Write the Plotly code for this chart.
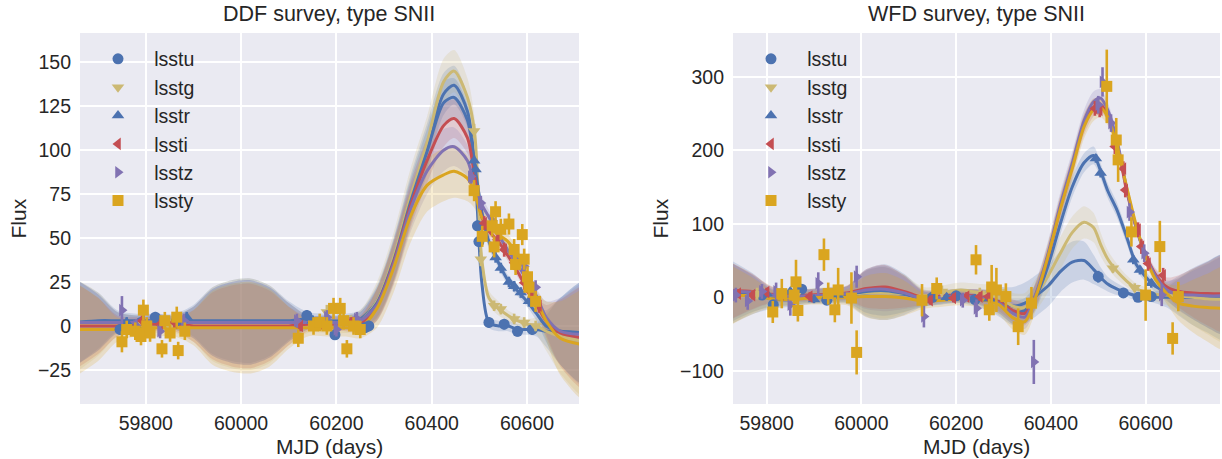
import plotly.graph_objects as go

# ---------------------------------------------------------------- bands
BAND_NAMES = ["lsstu", "lsstg", "lsstr", "lssti", "lsstz", "lssty"]
BAND_COLORS = ["#4C72B0", "#CCB974", "#4C72B0", "#C44E52", "#8172B2", "#DAA520"]
BAND_SYMBOLS = ["circle", "triangle-down", "triangle-up", "triangle-left",
                "triangle-right", "square"]

# ---------------------------------------------------------------- DDF survey
# Gaussian-process fit: mean and 1-sigma width on a common MJD grid
ddf_grid = [59650, 59700, 59740, 59780, 59820, 59860, 59900, 59940, 59980, 60020,
            60060, 60100, 60140, 60180, 60220, 60250, 60285, 60320, 60355, 60390,
            60425, 60447, 60475, 60490, 60505, 60520, 60540, 60560, 60580, 60600,
            60620, 60640, 60670, 60725]

ddf_mean_u = [2, 3, 3, 3, 3, 3, 3, 3, 3, 3, 3, 3, 4, 3, 3, 4, 14, 38, 72, 102,
              132, 137, 122, 92, 25, 2, 0, 0, -2, -2, -2, -3, -3, -4]
ddf_mean_g = [0, 1, 1, 1, 1, 1, 1, 1, 1, 1, 1, 1, 1, 1, 1, 3, 14, 39, 73, 104,
              139, 145, 130, 110, 38, 16, 10, 6, 3, 1, 0, -3, -6, -9]
ddf_mean_r = [2, 2, 2, 2, 2, 2, 2, 2, 2, 2, 2, 2, 2, 2, 2, 3, 13, 37, 70, 99,
              127, 130, 117, 92, 65, 48, 36, 26, 20, 14, 7, 0, -3, -4]
ddf_mean_i = [0, 0, 0, 1, 1, 1, 0, 0, 0, 0, 0, 0, 1, 1, 1, 1, 12, 36, 68, 94,
              114, 118, 107, 85, 62, 54, 48, 40, 31, 21, 12, 3, -4, -7]
ddf_mean_z = [2, 2, 2, 2, 3, 2, 2, 2, 2, 2, 2, 2, 2, 2, 2, 3, 12, 35, 66, 88,
              100, 102, 94, 80, 69, 62, 52, 43, 35, 26, 17, 5, -3, -5]
ddf_mean_y = [-2, -2, -2, -1, -1, -1, -1, -1, -1, -1, -1, -1, -1, -1, -1, -1, 10, 33, 62, 80,
              86, 88, 84, 76, 62, 56, 52, 48, 40, 29, 15, 3, -7, -11]

ddf_sig_u = [25, 16, 6, 4, 4, 4, 9, 19, 23, 24, 20, 11, 4, 4, 4, 5, 9, 12, 13, 13,
             12, 11, 9, 6, 5, 3, 3, 3, 3, 3, 4, 9, 19, 30]
ddf_sig_g = [27, 18, 7, 5, 5, 5, 10, 21, 25, 26, 22, 12, 5, 5, 5, 6, 11, 14, 16, 15,
             13, 12, 11, 8, 6, 4, 4, 3, 3, 3, 5, 11, 21, 32]
ddf_sig_r = [25, 16, 6, 4, 4, 4, 9, 19, 23, 24, 20, 11, 4, 4, 4, 5, 9, 12, 13, 13,
             12, 11, 9, 6, 5, 4, 3, 3, 3, 3, 4, 9, 19, 30]
ddf_sig_i = [25, 16, 6, 4, 4, 4, 9, 19, 23, 24, 20, 11, 4, 4, 4, 5, 9, 12, 13, 13,
             12, 11, 9, 7, 5, 4, 3, 3, 3, 3, 4, 9, 19, 30]
ddf_sig_z = [25, 16, 6, 4, 4, 4, 9, 19, 23, 24, 20, 11, 4, 4, 4, 5, 9, 12, 13, 13,
             12, 11, 9, 7, 5, 4, 3, 3, 3, 3, 4, 9, 19, 30]
ddf_sig_y = [27, 18, 7, 5, 5, 5, 10, 21, 25, 26, 22, 12, 5, 5, 5, 6, 11, 14, 15, 15,
             15, 15, 13, 9, 6, 5, 4, 4, 4, 4, 5, 11, 21, 32]

# observed photometry (MJD, flux, flux error)
ddf_obs_u_t = [59746, 59790, 59820, 59865, 60138, 60160, 60197, 60260, 60268,
               60496, 60499, 60520, 60552, 60580, 60611]
ddf_obs_u_f = [-2, 2, 5, 3, 6, 2, -5, -1, 0, 57, 48, 2, 1, -3, -2]
ddf_obs_u_e = [3, 3, 3, 3, 3, 3, 3, 3, 3, 3, 3, 3, 3, 3, 3]

ddf_obs_g_t = [59795, 59850, 60180, 60230, 60489, 60503, 60531, 60545, 60573, 60594, 60618]
ddf_obs_g_f = [1, 0, 8, 2, 111, 38, 11.5, 9.6, 4, 2, 0]
ddf_obs_g_e = [4, 4, 4, 4, 4, 4, 3, 3, 3, 3, 3]

ddf_obs_r_t = [59760, 59886, 60150, 60240, 60489, 60492, 60534, 60545, 60562, 60573,
               60587, 60604]
ddf_obs_r_f = [2, 5, 3, 3, 94, 89, 39, 33, 25, 22.6, 19, 14]
ddf_obs_r_e = [3, 3, 3, 3, 3, 3, 3, 3, 3, 3, 3, 3]

ddf_obs_i_t = [59792, 59830, 59860, 60124, 60170, 60230, 60510, 60538, 60552, 60573,
               60594, 60608, 60625]
ddf_obs_i_f = [3, 1, 2, 0, 1, 2, 58.5, 49, 43.4, 36, 24.6, 19, 11.5]
ddf_obs_i_e = [3, 3, 3, 3, 3, 3, 4, 4, 4, 4, 4, 4, 4]

ddf_obs_z_t = [59750, 59780, 59830, 59880, 60117, 60180, 60200, 60243, 60482, 60503,
               60527, 60573, 60594, 60618]
ddf_obs_z_f = [9, 0, -3, 3, 3, 5, -2, 4, 85, 70, 60, 38, 34, 22]
ddf_obs_z_e = [8, 4, 4, 4, 4, 4, 4, 4, 4, 4, 4, 4, 4, 4]

ddf_obs_y_t = [59750, 59760, 59778, 59790, 59795, 59802, 59809, 59834, 59840, 59851,
               59865, 59868, 59882, 60120, 60152, 60165, 60180, 60194, 60208, 60215,
               60222, 60236, 60250, 60489, 60506, 60527, 60531, 60534, 60545, 60562,
               60573, 60576, 60590, 60594, 60601, 60604, 60618]
ddf_obs_y_f = [-9, -2, -3, -6, 9, 0, -4, -13, 3, -4,
               5, -14, -3, -7, 0, 2, 0, 10, 10, 3,
               -13, 0, -2, 77, 51, 57, 45, 65, 55, 58,
               43.5, 35, 52, 38, 28, 22, 14]
ddf_obs_y_e = [6, 5, 5, 5, 6, 5, 5, 5, 5, 5,
               6, 5, 5, 5, 5, 5, 5, 6, 6, 5,
               5, 5, 5, 6, 6, 6, 6, 6, 6, 6,
               6, 6, 6, 6, 6, 6, 6]

# ---------------------------------------------------------------- WFD survey
wfd_grid = [59720, 59770, 59810, 59850, 59890, 59930, 59970, 60010, 60050, 60090,
            60130, 60170, 60210, 60250, 60290, 60320, 60345, 60370, 60395, 60420,
            60445, 60470, 60490, 60505, 60520, 60540, 60560, 60580, 60600, 60620,
            60645, 60670, 60700, 60730, 60765]

wfd_mean_u = [7, 5, -2, -3, 1, 2, 3, 6, 7, 4, -1, 0, 2, -2, -6, -12, -8, 3, 16, 35,
              48, 50, 38, 27, 18, 11, 6, 2, 1, 0, 0, 0, 0, 0, 0]
wfd_mean_g = [5, 5, 2, 0, 2, 3, 4, 6, 6, 5, 2, 6, 10, 6, 0, -12, -14, 5, 30, 60,
              88, 102, 95, 72, 52, 35, 22, 12, 7, 4, 3, 2, 0, -2, -3]
wfd_mean_r = [7, 5, -1, -2, 2, 3, 4, 8, 9, 5, -2, 0, 2, 0, -8, -20, -18, 3, 45, 100,
              150, 183, 193, 172, 145, 118, 82, 45, 28, 15, 8, 6, 5, 4, 4]
wfd_mean_i = [9, 8, 4, 2, 3, 4, 6, 12, 14, 8, 0, 2, 3, 1, -6, -18, -22, 6, 58, 122,
              178, 235, 258, 262, 248, 208, 145, 95, 58, 32, 14, 8, 6, 5, 5]
wfd_mean_z = [8, 7, 3, 1, 2, 3, 5, 10, 11, 6, -2, 0, 2, 0, -8, -22, -27, 8, 62, 126,
              182, 240, 266, 271, 255, 212, 148, 95, 57, 30, 10, 4, 3, 2, 2]
wfd_mean_y = [3, 2, -2, -3, -1, 0, 0, 1, 1, -1, -5, -4, -2, -3, -10, -28, -33, 4, 58, 120,
              175, 232, 255, 258, 245, 205, 150, 98, 55, 25, 5, -8, -12, -14, -15]

wfd_sig_u = [45, 28, 14, 10, 10, 11, 12, 32, 38, 28, 12, 10, 10, 12, 20, 26, 28, 28, 28, 28,
             28, 26, 20, 14, 10, 8, 6, 6, 6, 8, 14, 25, 38, 48, 58]
wfd_sig_g = [44, 26, 13, 10, 10, 11, 12, 30, 35, 26, 12, 10, 10, 12, 16, 18, 20, 22, 22, 22,
             22, 22, 20, 16, 12, 10, 8, 7, 7, 9, 14, 25, 38, 48, 58]
wfd_sig_r = [42, 25, 12, 9, 9, 10, 11, 29, 34, 25, 11, 9, 9, 11, 14, 16, 17, 17, 16, 15,
             14, 13, 12, 10, 10, 10, 9, 8, 7, 8, 13, 23, 35, 45, 54]
wfd_sig_i = [40, 24, 11, 8, 8, 9, 10, 26, 30, 22, 10, 8, 8, 10, 13, 15, 16, 17, 17, 16,
             15, 14, 12, 10, 9, 9, 8, 7, 7, 8, 13, 22, 33, 43, 52]
wfd_sig_z = [40, 24, 11, 8, 8, 9, 10, 26, 30, 22, 10, 8, 8, 10, 13, 15, 16, 17, 17, 17,
             16, 15, 14, 12, 10, 10, 9, 8, 7, 8, 13, 22, 33, 43, 52]
wfd_sig_y = [42, 25, 12, 9, 9, 10, 11, 28, 32, 24, 11, 9, 9, 11, 14, 16, 18, 18, 18, 18,
             17, 16, 15, 13, 11, 10, 9, 8, 8, 9, 14, 24, 36, 46, 56]

wfd_obs_u_t = [59790, 59814, 59874, 59927, 60150, 60200, 60240, 60500, 60553, 60584, 60612]
wfd_obs_u_f = [3, -10, 11, -4, 0, 2, -3, 28, 6, 0, 1]
wfd_obs_u_e = [6, 6, 6, 6, 5, 5, 5, 8, 5, 5, 5]

wfd_obs_g_t = [59780, 59860, 60170, 60250, 60300, 60531, 60577]
wfd_obs_g_f = [5, 2, 8, 5, 3, 39.5, 13]
wfd_obs_g_e = [8, 8, 8, 8, 8, 6, 6]

wfd_obs_r_t = [59800, 59850, 59900, 59950, 60140, 60180, 60270, 60495, 60505, 60574,
               60588, 60612]
wfd_obs_r_f = [5, 8, -3, 3, -3, 0, -2, 189, 169, 51, 37, 19]
wfd_obs_r_e = [5, 5, 5, 5, 5, 5, 5, 6, 6, 6, 6, 6]

wfd_obs_i_t = [59740, 59770, 59800, 59830, 59891, 60145, 60194, 60222, 60250, 60268,
               60493, 60503, 60535, 60553, 60557, 60584, 60591, 60605, 60637]
wfd_obs_i_f = [5, 3, 7, 4, 1, -4, -1, 1, 1, 1, 257, 255, 205, 175, 146, 92, 69, 46, 30]
wfd_obs_i_e = [6, 6, 6, 6, 6, 6, 6, 6, 6, 6, 10, 10, 10, 10, 10, 10, 10, 10, 10]

wfd_obs_z_t = [59735, 59760, 59790, 59820, 59850, 59909, 59990, 60132, 60214, 60243,
               60364, 60500, 60509, 60527, 60566, 60597, 60634]
wfd_obs_z_f = [3, -5, 8, 8, -10, 19, 28, -26, -4, -15, -88, 262, 293, 237, 116, 60, 3]
wfd_obs_z_e = [10, 12, 10, 12, 15, 15, 15, 15, 10, 12, 30, 12, 20, 12, 12, 12, 15]

wfd_obs_y_t = [59813, 59832, 59858, 59862, 59866, 59921, 59930, 59944, 59951, 59979,
               59990, 60128, 60159, 60242, 60270, 60275, 60285, 60305, 60331, 60359,
               60518, 60538, 60542, 60570, 60600, 60630, 60657, 60669]
wfd_obs_y_f = [-20, 5, 3, 21, -18, 58, 5, -17, 10, -1,
               -75, -4, 12, 51, -17, 14, 10, 1, -40, -8,
               287, 214, 187, 89, 3, 69, -56, 1]
wfd_obs_y_e = [15, 20, 12, 30, 15, 22, 15, 17, 30, 35,
               30, 22, 15, 20, 15, 30, 30, 18, 25, 22,
               50, 30, 30, 20, 35, 35, 22, 20]

# axis ticks
DDF_YTICKS = [-25, 0, 25, 50, 75, 100, 125, 150]
WFD_YTICKS = [-100, 0, 100, 200, 300]
MJD_TICKS = [59800, 60000, 60200, 60400, 60600]

# ---------------------------------------------------------------- assembly
ddf_means = [ddf_mean_u, ddf_mean_g, ddf_mean_r, ddf_mean_i, ddf_mean_z, ddf_mean_y]
ddf_sigs = [ddf_sig_u, ddf_sig_g, ddf_sig_r, ddf_sig_i, ddf_sig_z, ddf_sig_y]
ddf_obs = [(ddf_obs_u_t, ddf_obs_u_f, ddf_obs_u_e), (ddf_obs_g_t, ddf_obs_g_f, ddf_obs_g_e),
           (ddf_obs_r_t, ddf_obs_r_f, ddf_obs_r_e), (ddf_obs_i_t, ddf_obs_i_f, ddf_obs_i_e),
           (ddf_obs_z_t, ddf_obs_z_f, ddf_obs_z_e), (ddf_obs_y_t, ddf_obs_y_f, ddf_obs_y_e)]
wfd_means = [wfd_mean_u, wfd_mean_g, wfd_mean_r, wfd_mean_i, wfd_mean_z, wfd_mean_y]
wfd_sigs = [wfd_sig_u, wfd_sig_g, wfd_sig_r, wfd_sig_i, wfd_sig_z, wfd_sig_y]
wfd_obs = [(wfd_obs_u_t, wfd_obs_u_f, wfd_obs_u_e), (wfd_obs_g_t, wfd_obs_g_f, wfd_obs_g_e),
           (wfd_obs_r_t, wfd_obs_r_f, wfd_obs_r_e), (wfd_obs_i_t, wfd_obs_i_f, wfd_obs_i_e),
           (wfd_obs_z_t, wfd_obs_z_f, wfd_obs_z_e), (wfd_obs_y_t, wfd_obs_y_f, wfd_obs_y_e)]


def rgba(hex_color, alpha):
    h = hex_color.lstrip("#")
    r, g, b = int(h[0:2], 16), int(h[2:4], 16), int(h[4:6], 16)
    return f"rgba({r},{g},{b},{alpha})"


fig = go.Figure()

# non-breaking spaces push the legend labels away from their symbols
LABEL_PAD = "\u00a0\u00a0\u00a0"


def add_panel(xa, ya, grid, means, sigs, obs, legend_name):
    # uncertainty envelopes
    for k in range(len(BAND_NAMES)):
        upper = [m + s for m, s in zip(means[k], sigs[k])]
        lower = [m - s for m, s in zip(means[k], sigs[k])]
        fig.add_trace(go.Scatter(
            x=grid + grid[::-1], y=upper + lower[::-1],
            mode="lines", fill="toself", fillcolor=rgba(BAND_COLORS[k], 0.2),
            line=dict(width=0, shape="spline", smoothing=0.8),
            hoverinfo="skip", showlegend=False, xaxis=xa, yaxis=ya))
    # GP mean curves
    for k in range(len(BAND_NAMES)):
        fig.add_trace(go.Scatter(
            x=grid, y=means[k], mode="lines",
            line=dict(color=BAND_COLORS[k], width=3, shape="spline", smoothing=0.8),
            hoverinfo="skip", showlegend=False, xaxis=xa, yaxis=ya))
    # photometry with error bars
    for k, name in enumerate(BAND_NAMES):
        t, f, e = obs[k]
        fig.add_trace(go.Scatter(
            x=t, y=f, mode="markers", name=LABEL_PAD + name,
            marker=dict(symbol=BAND_SYMBOLS[k], size=11, color=BAND_COLORS[k],
                        line=dict(width=0)),
            error_y=dict(type="data", array=e, color=BAND_COLORS[k],
                         thickness=2.6, width=0),
            legend=legend_name, xaxis=xa, yaxis=ya))


add_panel("x", "y", ddf_grid, ddf_means, ddf_sigs, ddf_obs, "legend")
add_panel("x2", "y2", wfd_grid, wfd_means, wfd_sigs, wfd_obs, "legend2")

FONT = "Liberation Sans, Arial, sans-serif"
TEXT = "#262626"
BG = "#EAEAF2"

axis_common = dict(showgrid=True, gridcolor="white", gridwidth=1.6, zeroline=False,
                   showline=False, ticks="", tickfont=dict(size=19.5, color=TEXT, family=FONT))

legend_common = dict(font=dict(size=19.5, color=TEXT, family=FONT),
                     bgcolor="rgba(0,0,0,0)", borderwidth=0,
                     xanchor="left", yanchor="top", itemwidth=30,
                     tracegroupgap=0)

L_DOM = [0.0, 0.4377]
R_DOM = [0.5728, 1.0]

fig.update_layout(
    width=1222, height=459,
    margin=dict(l=80, r=2, t=33, b=55, autoexpand=False),
    paper_bgcolor="white", plot_bgcolor=BG,
    font=dict(family=FONT, color=TEXT),
    showlegend=True,
    xaxis=dict(domain=L_DOM, range=[59662, 60709], tickvals=MJD_TICKS, tickformat="d",
               ticklabelstandoff=5, anchor="y", **axis_common),
    yaxis=dict(domain=[0, 1], range=[-44.4, 166.7], tickvals=DDF_YTICKS,
               ticklabelstandoff=8, anchor="x", **axis_common),
    xaxis2=dict(domain=R_DOM, range=[59729, 60757], tickvals=MJD_TICKS, tickformat="d",
                ticklabelstandoff=5, anchor="y2", **axis_common),
    yaxis2=dict(domain=[0, 1], range=[-145.2, 359.6], tickvals=WFD_YTICKS,
                ticklabelstandoff=8, anchor="x2", **axis_common),
    legend=dict(x=0.0 + 18 / 1140, y=0.982, **legend_common),
    legend2=dict(x=R_DOM[0] + 18 / 1140, y=0.982, **legend_common),
)

PLOT_H = 459 - 33 - 55
titles = [
    ("DDF survey, type SNII", (L_DOM[0] + L_DOM[1]) / 2),
    ("WFD survey, type SNII", (R_DOM[0] + R_DOM[1]) / 2),
]
for text, xc in titles:
    fig.add_annotation(text=text, x=xc, y=1 + 19 / PLOT_H, xref="paper", yref="paper",
                       xanchor="center", yanchor="middle", showarrow=False,
                       font=dict(size=21.5, color=TEXT, family=FONT))
    fig.add_annotation(text="MJD (days)", x=xc, y=-(446 - 404) / PLOT_H,
                       xref="paper", yref="paper", xanchor="center", yanchor="middle",
                       showarrow=False, font=dict(size=21, color=TEXT, family=FONT))

for xpx in (18, 660):
    fig.add_annotation(text="Flux", x=(xpx - 80) / 1140, y=0.5, xref="paper", yref="paper",
                       xanchor="center", yanchor="middle", textangle=-90, showarrow=False,
                       font=dict(size=21, color=TEXT, family=FONT))

fig.write_html("out.html")
